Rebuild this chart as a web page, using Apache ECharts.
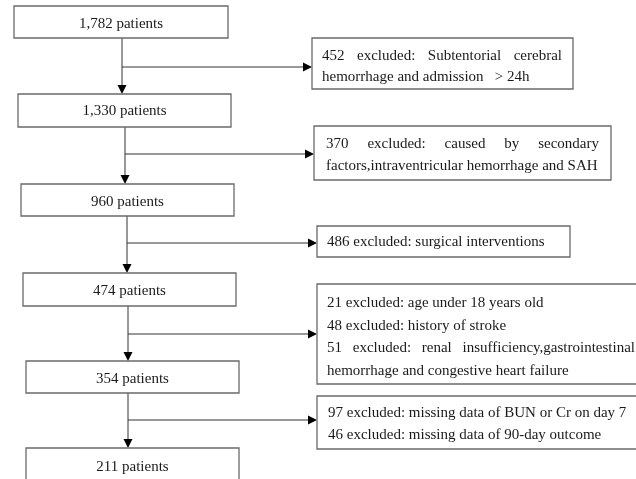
<!DOCTYPE html>
<html>
<head>
<meta charset="utf-8">
<script src="https://cdn.jsdelivr.net/npm/echarts@6/dist/echarts.min.js"></script>
<style>
  html, body { margin: 0; padding: 0; background: #fff; }
  #flow { width: 636px; height: 479px; }
</style>
</head>
<body>
<div id="flow"></div>
<script>
// texts of the flow chart
const mainLabels = ['1,782 patients', '1,330 patients', '960 patients', '474 patients', '354 patients', '211 patients']
const excludedLines = [
  ['452 excluded: Subtentorial cerebral', 'hemorrhage and admission   > 24h'],
  ['370 excluded: caused by secondary', 'factors,intraventricular hemorrhage and SAH'],
  ['486 excluded: surgical interventions'],
  ['21 excluded: age under 18 years old', '48 excluded: history of stroke',
    '51 excluded: renal insufficiency,gastrointestinal', 'hemorrhage and congestive heart failure'],
  ['97 excluded: missing data of BUN or Cr on day 7', '46 excluded: missing data of 90-day outcome']
]
// which line of each exclusion box is justified
const justifiedLine = [0, 0, -1, 2, -1]

// layout (pixel space of the hidden axes)
const mainBoxes = [[14, 6, 214, 32], [18, 94, 213, 33], [21, 184, 213, 32], [23, 273, 213, 33], [26, 361, 213, 32], [26, 448, 213, 40]]
const mainTextY = [24, 111, 202, 291, 379, 467]
const exclBoxes = [[312, 38, 261, 51], [314, 126, 297, 54], [317, 226, 253, 31], [317, 284, 330, 100], [317, 396, 330, 53]]
const exclTextX = [322, 326, 327, 327, 328]
const exclLineY = [[56, 77], [144, 166], [242], [303, 326, 348, 371], [413, 435]]
const justifyRight = [562, 599, 0, 635, 0]
const trunkX = [122, 125, 127, 128, 128]
const branchY = [67, 154, 243, 334, 420]

const FONT = '15px "Liberation Serif", "Times New Roman", serif'
const TEXT = '#1a1a1a'
const BORDER = '#6a6a6a'
const LINE = '#333'

const measure = document.createElement('canvas').getContext('2d')
measure.font = FONT

function textEl(x, y, str, align) {
  return {
    type: 'text',
    style: { x: x, y: y, text: str, font: FONT, fill: TEXT, textAlign: align || 'left', textVerticalAlign: 'middle' }
  }
}

function rectEl(api, b) {
  const p0 = api.coord([b[0], b[1]])
  const p1 = api.coord([b[0] + b[2], b[1] + b[3]])
  return {
    type: 'rect',
    shape: { x: p0[0], y: p0[1], width: p1[0] - p0[0], height: p1[1] - p0[1] },
    style: { fill: '#fff', stroke: BORDER, lineWidth: 1.3 }
  }
}

function justifiedEls(api, str, x0, x1, y) {
  const words = str.split(/\s+/)
  const widths = words.map(w => measure.measureText(w).width)
  const total = widths.reduce((a, b) => a + b, 0)
  const gap = (x1 - x0 - total) / (words.length - 1)
  const out = []
  let x = x0
  words.forEach((w, i) => {
    const p = api.coord([x, y])
    out.push(textEl(p[0], p[1], w))
    x += widths[i] + gap
  })
  return out
}

function arrowHead(tip, dir) {
  const s = 4.5, l = 9
  const pts = dir === 'down'
    ? [[tip[0], tip[1]], [tip[0] - s, tip[1] - l], [tip[0] + s, tip[1] - l]]
    : [[tip[0], tip[1]], [tip[0] - l, tip[1] - s], [tip[0] - l, tip[1] + s]]
  return { type: 'polygon', shape: { points: pts }, style: { fill: '#000' } }
}

const chart = echarts.init(document.getElementById('flow'))

chart.setOption({
  backgroundColor: '#fff',
  animation: false,
  grid: { left: 0, right: 0, top: 0, bottom: 0 },
  xAxis: { type: 'value', min: 0, max: 636, show: false },
  yAxis: { type: 'value', min: 0, max: 479, inverse: true, show: false },
  series: [
    {
      // connectors: trunk from box i to box i+1 and branch to exclusion box i
      type: 'custom',
      data: excludedLines.map((_, i) => i),
      renderItem: function (params, api) {
        const i = api.value(0)
        const x = trunkX[i]
        const top = api.coord([x, mainBoxes[i][1] + mainBoxes[i][3]])
        const bottom = api.coord([x, mainBoxes[i + 1][1]])
        const b0 = api.coord([x, branchY[i]])
        const b1 = api.coord([exclBoxes[i][0], branchY[i]])
        return {
          type: 'group',
          children: [
            { type: 'line', shape: { x1: top[0], y1: top[1], x2: bottom[0], y2: bottom[1] - 6 }, style: { stroke: LINE, lineWidth: 1 } },
            arrowHead(bottom, 'down'),
            { type: 'line', shape: { x1: b0[0], y1: b0[1], x2: b1[0] - 6, y2: b1[1] }, style: { stroke: LINE, lineWidth: 1 } },
            arrowHead(b1, 'right')
          ]
        }
      }
    },
    {
      // patient count boxes
      type: 'custom',
      data: mainLabels.map((_, i) => i),
      renderItem: function (params, api) {
        const i = api.value(0)
        const b = mainBoxes[i]
        const c = api.coord([b[0] + b[2] / 2, mainTextY[i]])
        return { type: 'group', children: [rectEl(api, b), textEl(c[0], c[1], mainLabels[i], 'center')] }
      }
    },
    {
      // exclusion boxes
      type: 'custom',
      data: excludedLines.map((_, i) => i),
      renderItem: function (params, api) {
        const i = api.value(0)
        const kids = [rectEl(api, exclBoxes[i])]
        excludedLines[i].forEach((line, j) => {
          if (j === justifiedLine[i]) {
            kids.push(...justifiedEls(api, line, exclTextX[i], justifyRight[i], exclLineY[i][j]))
          } else {
            const p = api.coord([exclTextX[i], exclLineY[i][j]])
            kids.push(textEl(p[0], p[1], line))
          }
        })
        return { type: 'group', children: kids }
      }
    }
  ]
})
</script>
</body>
</html>
